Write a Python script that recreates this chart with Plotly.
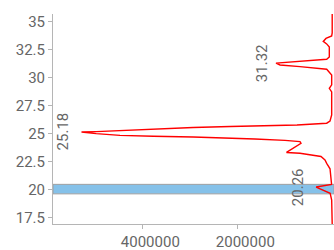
import plotly.graph_objects as go

# Retention (y) vs intensity (x), bottom to top
rt = [16.96, 18.2, 19.1, 19.7, 19.9, 20.26, 20.5, 21.16, 21.89, 22.38, 22.68,
      22.99, 23.28, 23.35, 24.17, 24.32, 24.43, 24.55, 24.64, 24.73, 24.79,
      24.87, 25.03, 25.18, 25.21, 25.29, 25.42, 25.51, 25.57, 25.66, 25.75,
      25.8, 25.96, 26.16, 26.7, 28.04, 28.75, 29.08, 29.38, 30.27, 30.56,
      30.78, 31.01, 31.16, 31.32, 31.46, 31.67, 31.88, 32.77, 33.04, 33.26,
      33.53, 33.75, 34.02, 35.71]
intensity = [2000, 3000, 13000, 45000, 150000, 340000, 15000, 25000, 48000,
             118000, 154000, 238000, 680000, 964000, 659000, 680000, 996000,
             1630000, 2150000, 2930000, 3770000, 4470000, 4970000, 5280000,
             4970000, 4550000, 4050000, 3560000, 2930000, 2150000, 1310000,
             743000, 118000, 48000, 13000, 13000, 13000, 63000, 13000, 13000,
             63000, 118000, 680000, 1100000, 1185000, 680000, 118000, 63000,
             63000, 118000, 190000, 133000, 13000, 2000, 2000]

peak_labels = [25.18, 31.32, 20.26]
band = [19.65, 20.5]

x_ticks = [4000000, 2000000]
y_ticks = [17.5, 20, 22.5, 25, 27.5, 30, 32.5, 35]

label_shift = [-8, -3, -7]

FONT = "Roboto"
GREY = "#666666"

fig = go.Figure()
fig.add_shape(type="rect", xref="paper", yref="y", x0=0, x1=1,
              y0=band[0], y1=band[1], fillcolor="#85c1e9",
              line=dict(color="#a0a0a0", width=1), layer="below")
fig.add_trace(go.Scatter(x=intensity, y=rt, mode="lines",
                         line=dict(color="red", width=1.4), showlegend=False))

for lab, sh in zip(peak_labels, label_shift):
    i = rt.index(lab)
    fig.add_annotation(x=intensity[i], y=lab, text=f"{lab:.2f}",
                       showarrow=False, textangle=-90, xanchor="right",
                       yanchor="middle", xshift=sh,
                       font=dict(family=FONT, size=15, color=GREY))

fig.update_layout(
    width=334, height=250,
    margin=dict(l=53, r=0, t=14, b=26),
    paper_bgcolor="white", plot_bgcolor="white",
    font=dict(family=FONT, size=15, color=GREY),
    showlegend=False,
)
fig.update_xaxes(range=[5880000, -35800], tickmode="array", tickvals=x_ticks,
                 ticktext=[str(v) for v in x_ticks], showgrid=False,
                 zeroline=False, showline=True, linecolor="#b5b5b5",
                 linewidth=1, ticks="outside", ticklen=4, tickcolor="#b5b5b5",
                 ticklabelshift=-8)
fig.update_yaxes(range=[16.96, 35.71], tickmode="array", tickvals=y_ticks,
                 ticktext=[f"{v:g}" for v in y_ticks], showgrid=False,
                 zeroline=False, showline=True, linecolor="#b5b5b5",
                 linewidth=1, ticks="outside", ticklen=4, tickcolor="#b5b5b5")

fig.write_html("out.html", config={"displayModeBar": False},
               post_script="document.body.style.margin='0';"
                           "document.body.style.overflow='hidden';")
